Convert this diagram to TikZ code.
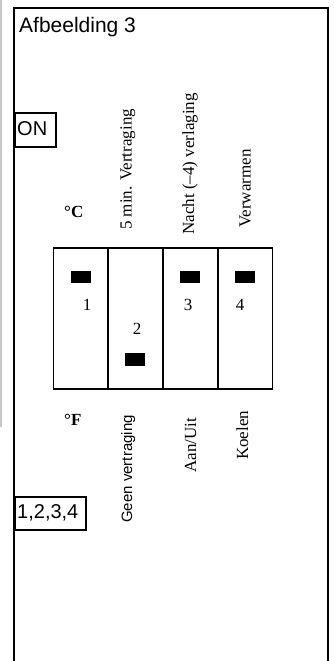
\documentclass[tikz,border=0pt]{standalone}
\usepackage{fontspec}
\setmainfont{Liberation Serif}
\newfontfamily\arialf{Liberation Sans}
\begin{document}
\begin{tikzpicture}[x=1pt,y=-1pt,
  frameline/.style={line width=2pt},
  swline/.style={line width=1.8pt},
  knob/.style={fill=black},
  boxline/.style={line width=1.6pt},
  sanstxt/.style={inner sep=0pt, anchor=base west, font=\arialf\fontsize{20}{20}\selectfont},
  vlab/.style={rotate=90, anchor=base west, inner sep=0pt, font=\fontsize{17}{17}\selectfont},
  digit/.style={inner sep=0pt, anchor=center, font=\fontsize{17}{17}\selectfont},
  unit/.style={inner sep=0pt, anchor=base west, font=\bfseries\fontsize{17}{17}\selectfont}]
\useasboundingbox (0,0) rectangle (334,661);
% gray side line
\draw[line width=1.5pt, draw={rgb,255:red,200;green,200;blue,200}] (1.2,0) -- (1.2,427);
% outer frame (open at bottom)
\draw[frameline] (14.3,661) -- (14.3,7.8) -- (328,7.8) -- (328,661);
% title
\node[sanstxt, font=\arialf\fontsize{21}{21}\selectfont] (title) at (19,32.5) {Afbeelding 3};
% ON box
\draw[boxline] (15,113) rectangle (56,147);
\node[sanstxt] (on) at (17,135) {ON};
% 1,2,3,4 box
\draw[boxline] (15,497) rectangle (86,530);
\node[sanstxt] (all) at (17,518) {1,2,3,4};
% units
\node[unit] (degc) at (64,217) {°C};
\node[unit] (degf) at (64,425) {°F};
% top labels
\node[vlab] (l1) at (131.5,230) {5 min. Vertraging};
\node[vlab] (l2) at (194,235) {Nacht (–4) verlaging};
\node[vlab] (l3) at (250.5,228) {Verwarmen};
% bottom labels
\node[vlab, font=\arialf\fontsize{15}{15}\selectfont] (b1) at (132,523) {Geen vertraging};
\node[vlab] (b2) at (196,473) {Aan/Uit};
\node[vlab] (b3) at (248,460) {Koelen};
% switch block
\draw[swline] (53.5,248) rectangle (272.5,389);
\draw[swline] (108.3,248) -- (108.3,389);
\draw[swline] (163.3,248) -- (163.3,389);
\draw[swline] (217.7,248) -- (217.7,389);
% knobs
\fill[knob] (71,271) rectangle (91,283);
\fill[knob] (125,353) rectangle (145,366);
\fill[knob] (180,271) rectangle (200,283);
\fill[knob] (235,271) rectangle (255,283);
% digits
\node[digit] (d1) at (87,305) {1};
\node[digit] (d2) at (137,329) {2};
\node[digit] (d3) at (188,305) {3};
\node[digit] (d4) at (240,305) {4};
\end{tikzpicture}
\end{document}
